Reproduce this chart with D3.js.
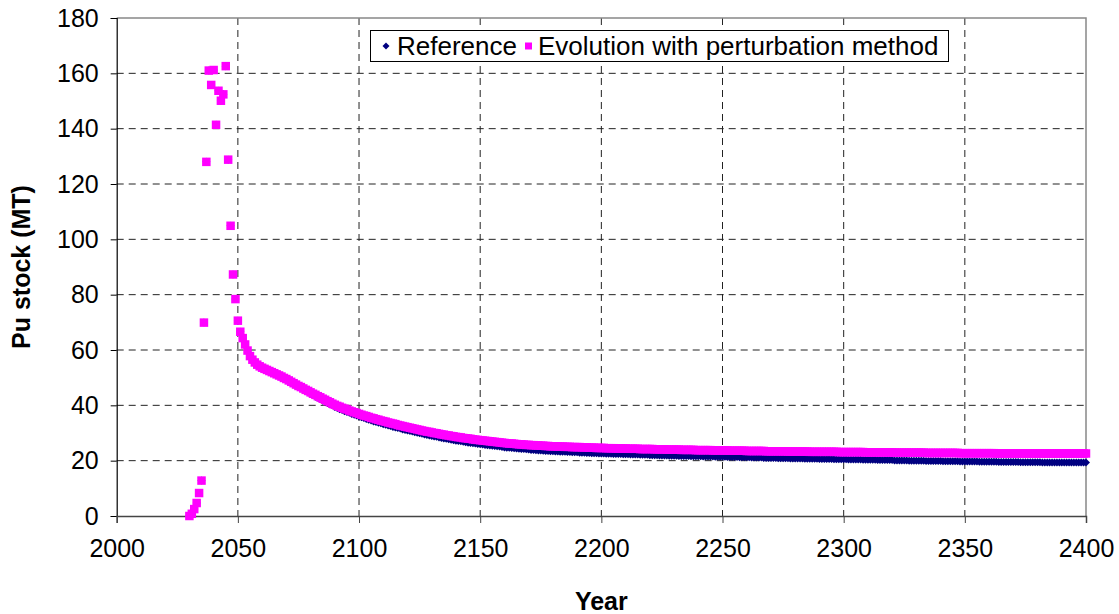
<!DOCTYPE html>
<html>
<head>
<meta charset="utf-8">
<script src="https://cdn.jsdelivr.net/npm/d3@7"></script>
<style>
  html, body { margin: 0; padding: 0; background: #fff; }
  svg { display: block; font-family: "Liberation Sans", Arial, sans-serif; }
</style>
</head>
<body>
<svg id="chart" width="1119" height="614"></svg>
<script>
// ---------- DATA ----------
const firstYear = 2030;
const lastYear = 2400;
const xTicks = [2000, 2050, 2100, 2150, 2200, 2250, 2300, 2350, 2400];
const yTicks = [0, 20, 40, 60, 80, 100, 120, 140, 160, 180];
const seriesNames = ["Reference", "Evolution with perturbation method"];

// Evolution with perturbation method (one value per year, 2030..2400)
const perturbation = [
  0, 0.8, 2.5, 4.7, 8.3, 12.8, 69.9, 128, 161, 155.8,
  161.2, 141.4, 153.7, 150.1, 152.4, 162.6, 128.8, 104.9, 87.3, 78.4,
  70.6, 66.6, 64.3, 62, 59.8, 57.8, 56.5, 55.5, 54.7, 54.1,
  53.6, 53.2, 52.8, 52.4, 52.0, 51.6, 51.2, 50.8, 50.4, 49.9,
  49.5, 49.0, 48.5, 48.0, 47.5, 47.0, 46.6, 46.1, 45.6, 45.2,
  44.7, 44.2, 43.8, 43.3, 42.9, 42.4, 42.0, 41.5, 41.1, 40.6,
  40.2, 39.8, 39.5, 39.1, 38.8, 38.5, 38.1, 37.8, 37.5, 37.2,
  36.9, 36.6, 36.3, 36.1, 35.8, 35.5, 35.3, 35.0, 34.8, 34.5,
  34.3, 34.1, 33.8, 33.6, 33.4, 33.2, 32.9, 32.7, 32.5, 32.3,
  32.1, 31.9, 31.7, 31.5, 31.3, 31.1, 30.9, 30.7, 30.5, 30.4,
  30.2, 30.0, 29.9, 29.7, 29.5, 29.4, 29.2, 29.1, 28.9, 28.8,
  28.6, 28.5, 28.4, 28.2, 28.1, 28.0, 27.9, 27.7, 27.6, 27.5,
  27.4, 27.3, 27.2, 27.1, 27.0, 26.9, 26.8, 26.7, 26.6, 26.5,
  26.4, 26.3, 26.2, 26.2, 26.1, 26.0, 25.9, 25.9, 25.8, 25.7,
  25.7, 25.6, 25.6, 25.5, 25.5, 25.4, 25.4, 25.3, 25.3, 25.2,
  25.2, 25.2, 25.1, 25.1, 25.1, 25.0, 25.0, 25.0, 24.9, 24.9,
  24.9, 24.9, 24.8, 24.8, 24.8, 24.7, 24.7, 24.7, 24.6, 24.6,
  24.6, 24.6, 24.5, 24.5, 24.5, 24.5, 24.4, 24.4, 24.4, 24.4,
  24.4, 24.3, 24.3, 24.3, 24.3, 24.3, 24.2, 24.2, 24.2, 24.2,
  24.2, 24.2, 24.1, 24.1, 24.1, 24.1, 24.1, 24.0, 24.0, 24.0,
  24.0, 24.0, 24.0, 23.9, 23.9, 23.9, 23.9, 23.9, 23.9, 23.8,
  23.8, 23.8, 23.8, 23.8, 23.8, 23.8, 23.7, 23.7, 23.7, 23.7,
  23.7, 23.7, 23.7, 23.6, 23.6, 23.6, 23.6, 23.6, 23.6, 23.6,
  23.5, 23.5, 23.5, 23.5, 23.5, 23.5, 23.5, 23.5, 23.4, 23.4,
  23.4, 23.4, 23.4, 23.4, 23.4, 23.4, 23.4, 23.3, 23.3, 23.3,
  23.3, 23.3, 23.3, 23.3, 23.3, 23.3, 23.2, 23.2, 23.2, 23.2,
  23.2, 23.2, 23.2, 23.2, 23.2, 23.2, 23.2, 23.2, 23.1, 23.1,
  23.1, 23.1, 23.1, 23.1, 23.1, 23.1, 23.1, 23.1, 23.1, 23.0,
  23.0, 23.0, 23.0, 23.0, 23.0, 23.0, 23.0, 23.0, 23.0, 23.0,
  23.0, 22.9, 22.9, 22.9, 22.9, 22.9, 22.9, 22.9, 22.9, 22.9,
  22.9, 22.9, 22.9, 22.9, 22.8, 22.8, 22.8, 22.8, 22.8, 22.8,
  22.8, 22.8, 22.8, 22.8, 22.8, 22.8, 22.8, 22.8, 22.7, 22.7,
  22.7, 22.7, 22.7, 22.7, 22.7, 22.7, 22.7, 22.7, 22.7, 22.7,
  22.7, 22.7, 22.7, 22.6, 22.6, 22.6, 22.6, 22.6, 22.6, 22.6,
  22.6, 22.6, 22.6, 22.6, 22.6, 22.6, 22.6, 22.6, 22.6, 22.6,
  22.6, 22.6, 22.6, 22.6, 22.6, 22.6, 22.6, 22.6, 22.6, 22.6,
  22.6, 22.6, 22.6, 22.6, 22.6, 22.6, 22.6, 22.6, 22.6, 22.6,
  22.6
];

// Reference (one value per year, 2030..2400)
const reference = [
  0, 0.8, 2.5, 4.7, 8.3, 12.8, 69.9, 128, 161, 155.8,
  161.2, 141.4, 153.7, 150.1, 152.4, 162.6, 128.8, 104.9, 87.3, 78.4,
  70.6, 66.6, 64.3, 62, 59.8, 57.8, 56.5, 55.5, 54.6, 53.9,
  53.4, 52.9, 52.5, 52.1, 51.7, 51.3, 50.9, 50.4, 50.0, 49.6,
  49.1, 48.6, 48.1, 47.6, 47.1, 46.6, 46.1, 45.6, 45.1, 44.6,
  44.1, 43.6, 43.1, 42.7, 42.2, 41.7, 41.3, 40.8, 40.3, 39.9,
  39.4, 39.0, 38.6, 38.3, 37.9, 37.6, 37.3, 36.9, 36.6, 36.3,
  36.0, 35.7, 35.4, 35.1, 34.8, 34.5, 34.2, 34.0, 33.7, 33.5,
  33.2, 33.0, 32.7, 32.5, 32.2, 32.0, 31.8, 31.6, 31.3, 31.1,
  30.9, 30.7, 30.5, 30.3, 30.1, 29.9, 29.7, 29.5, 29.3, 29.1,
  28.9, 28.7, 28.6, 28.4, 28.2, 28.0, 27.9, 27.7, 27.6, 27.4,
  27.2, 27.1, 27.0, 26.8, 26.7, 26.5, 26.4, 26.3, 26.2, 26.0,
  25.9, 25.8, 25.7, 25.6, 25.5, 25.4, 25.3, 25.2, 25.1, 24.9,
  24.8, 24.7, 24.7, 24.6, 24.5, 24.4, 24.3, 24.2, 24.2, 24.1,
  24.0, 23.9, 23.9, 23.8, 23.7, 23.7, 23.6, 23.5, 23.5, 23.4,
  23.4, 23.3, 23.3, 23.2, 23.2, 23.2, 23.1, 23.1, 23.0, 23.0,
  23.0, 22.9, 22.9, 22.9, 22.8, 22.8, 22.7, 22.7, 22.7, 22.6,
  22.6, 22.6, 22.5, 22.5, 22.5, 22.4, 22.4, 22.4, 22.4, 22.3,
  22.3, 22.3, 22.2, 22.2, 22.2, 22.2, 22.1, 22.1, 22.1, 22.1,
  22.0, 22.0, 22.0, 22.0, 21.9, 21.9, 21.9, 21.9, 21.8, 21.8,
  21.8, 21.8, 21.7, 21.7, 21.7, 21.7, 21.7, 21.6, 21.6, 21.6,
  21.6, 21.6, 21.5, 21.5, 21.5, 21.5, 21.5, 21.4, 21.4, 21.4,
  21.4, 21.4, 21.3, 21.3, 21.3, 21.3, 21.3, 21.2, 21.2, 21.2,
  21.2, 21.2, 21.1, 21.1, 21.1, 21.1, 21.1, 21.0, 21.0, 21.0,
  21.0, 21.0, 21.0, 20.9, 20.9, 20.9, 20.9, 20.9, 20.8, 20.8,
  20.8, 20.8, 20.8, 20.8, 20.7, 20.7, 20.7, 20.7, 20.7, 20.7,
  20.6, 20.6, 20.6, 20.6, 20.6, 20.6, 20.5, 20.5, 20.5, 20.5,
  20.5, 20.5, 20.4, 20.4, 20.4, 20.4, 20.4, 20.4, 20.3, 20.3,
  20.3, 20.3, 20.3, 20.3, 20.2, 20.2, 20.2, 20.2, 20.2, 20.2,
  20.2, 20.1, 20.1, 20.1, 20.1, 20.1, 20.1, 20.0, 20.0, 20.0,
  20.0, 20.0, 20.0, 20.0, 19.9, 19.9, 19.9, 19.9, 19.9, 19.9,
  19.9, 19.8, 19.8, 19.8, 19.8, 19.8, 19.8, 19.8, 19.7, 19.7,
  19.7, 19.7, 19.7, 19.7, 19.7, 19.7, 19.6, 19.6, 19.6, 19.6,
  19.6, 19.6, 19.6, 19.6, 19.5, 19.5, 19.5, 19.5, 19.5, 19.5,
  19.5, 19.5, 19.5, 19.4, 19.4, 19.4, 19.4, 19.4, 19.4, 19.4,
  19.4, 19.4, 19.3, 19.3, 19.3, 19.3, 19.3, 19.3, 19.3, 19.3,
  19.3, 19.3, 19.3, 19.3, 19.3, 19.3, 19.3, 19.3, 19.3, 19.3,
  19.3
];

const years = d3.range(firstYear, lastYear + 1);

// ---------- LAYOUT ----------
const svg = d3.select("#chart");
const plot = { left: 116.7, right: 1086, top: 18, bottom: 516 };

const x = d3.scaleLinear().domain([2000, 2400]).range([plot.left, plot.right]);
const y = d3.scaleLinear().domain([0, 180]).range([plot.bottom, plot.top]);

const fontSize = 25;
const legendFont = 26;

// gridlines
const grid = svg.append("g");
grid.selectAll("line.h").data(yTicks.filter(v => v > 0 && v < 180)).enter()
  .append("line")
  .attr("x1", plot.left).attr("x2", plot.right)
  .attr("y1", d => y(d)).attr("y2", d => y(d))
  .attr("stroke", "#222").attr("stroke-width", 1)
  .attr("stroke-dasharray", "7,5");
grid.selectAll("line.v").data(xTicks.filter(v => v > 2000 && v < 2400)).enter()
  .append("line")
  .attr("x1", d => x(d)).attr("x2", d => x(d))
  .attr("y1", plot.top).attr("y2", plot.bottom)
  .attr("stroke", "#222").attr("stroke-width", 1)
  .attr("stroke-dasharray", "7,5");

// plot border (top and right)
svg.append("path")
  .attr("d", `M${plot.left},${plot.top}H${plot.right}V${plot.bottom}`)
  .attr("fill", "none").attr("stroke", "#888").attr("stroke-width", 1.5);

// axes
const yAxis = svg.append("g")
  .attr("transform", `translate(${plot.left},0)`)
  .call(d3.axisLeft(y).tickValues(yTicks).tickSize(6).tickPadding(12).tickFormat(d3.format("d")));
yAxis.select(".domain").attr("stroke", "#000").attr("stroke-width", 1.2);
yAxis.selectAll(".tick line").attr("stroke", "#000");
yAxis.selectAll("text").attr("font-size", fontSize).attr("fill", "#000")
  .attr("font-family", "Liberation Sans, Arial, sans-serif");

const xAxis = svg.append("g")
  .attr("transform", `translate(0,${plot.bottom})`)
  .call(d3.axisBottom(x).tickValues(xTicks).tickSize(7).tickPadding(16).tickFormat(d3.format("d")));
xAxis.select(".domain").attr("stroke", "#444").attr("stroke-width", 1.5);
xAxis.selectAll(".tick line").attr("stroke", "#444");
xAxis.selectAll("text").attr("font-size", fontSize).attr("fill", "#000")
  .attr("font-family", "Liberation Sans, Arial, sans-serif");

// axis titles
svg.append("text")
  .attr("x", (plot.left + plot.right) / 2).attr("y", 610)
  .attr("text-anchor", "middle").attr("font-weight", "bold")
  .attr("font-size", fontSize).text("Year");
svg.append("text")
  .attr("transform", `translate(30,${(plot.top + plot.bottom) / 2}) rotate(-90)`)
  .attr("text-anchor", "middle").attr("font-weight", "bold")
  .attr("font-size", fontSize).text("Pu stock (MT)");

// series
const refColor = "#000080";
const pertColor = "#ff00ff";
const diamond = r => `M0,${-r}L${r},0L0,${r}L${-r},0Z`;

const refData = years.map((yr, i) => ({ yr, v: reference[i] }));
const pertData = years.map((yr, i) => ({ yr, v: perturbation[i] }));

svg.append("g").selectAll("path").data(refData).enter()
  .append("path")
  .attr("d", diamond(4))
  .attr("transform", d => `translate(${x(d.yr)},${y(d.v)})`)
  .attr("fill", refColor);

const sq = 8.5;
svg.append("g").selectAll("rect").data(pertData).enter()
  .append("rect")
  .attr("x", d => x(d.yr) - sq / 2).attr("y", d => y(d.v) - sq / 2)
  .attr("width", sq).attr("height", sq)
  .attr("fill", pertColor);

// legend
const lg = svg.append("g");
lg.append("rect").attr("x", 370.5).attr("y", 30.5).attr("width", 578).attr("height", 31)
  .attr("fill", "#fff").attr("stroke", "#000").attr("stroke-width", 1);
lg.append("path").attr("d", diamond(3.5)).attr("transform", "translate(386,46)").attr("fill", refColor);
lg.append("text").attr("x", 397).attr("y", 55).attr("font-size", legendFont).text(seriesNames[0]);
lg.append("rect").attr("x", 525).attr("y", 42.5).attr("width", 7).attr("height", 7).attr("fill", pertColor);
lg.append("text").attr("x", 538).attr("y", 55).attr("font-size", legendFont).text(seriesNames[1]);
</script>
</body>
</html>
